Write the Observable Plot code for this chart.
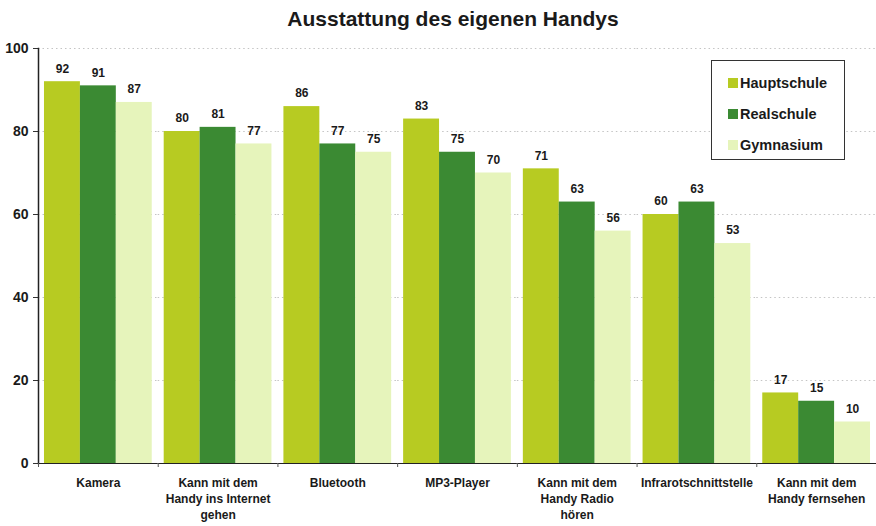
<!DOCTYPE html>
<html><head><meta charset="utf-8">
<script src="https://cdn.jsdelivr.net/npm/d3@7"></script>
<script src="https://cdn.jsdelivr.net/npm/@observablehq/plot@0.6"></script>
<style>
body{margin:0;background:#fff;font-family:"Liberation Sans",Arial,sans-serif;}
#wrap{position:relative;width:876px;}
#title{height:40px;line-height:38px;text-align:center;font-weight:bold;font-size:21px;color:#1a1a1a;padding-left:30px;box-sizing:border-box;}
#legend{position:absolute;left:711px;top:60px;width:134px;height:100px;border:1.5px solid #333;background:#fff;box-sizing:border-box;padding:6px 0 0 16px;}
#legend div{font-weight:bold;font-size:14.5px;color:#1a1a1a;height:31px;line-height:26px;display:flex;align-items:center;}
#legend span{display:inline-block;width:10px;height:10px;margin-right:2px;}
</style></head>
<body><div id="wrap"><div id="title">Ausstattung des eigenen Handys</div><div id="chart"></div><div id="legend"></div></div>
<script>
const categories = ["Kamera","Kann mit dem\nHandy ins Internet\ngehen","Bluetooth","MP3-Player","Kann mit dem\nHandy Radio\nhören","Infrarotschnittstelle","Kann mit dem\nHandy fernsehen"];
const schools = ["Hauptschule","Realschule","Gymnasium"];
const hauptschule = [92,80,86,83,71,60,17];
const realschule = [91,81,77,75,63,63,15];
const gymnasium = [87,77,75,70,56,53,10];
const yTicks = [0,20,40,60,80,100];
const colors = ["#b7cb22","#3b8a33","#e6f4bb"];

const series = [hauptschule, realschule, gymnasium];
const data = [];
categories.forEach((c,i)=>schools.forEach((s,j)=>data.push({cat:c, school:s, value:series[j][i]})));

const W = 876, mL = 38, mR = 0;
const step = (W - mL - mR) / categories.length;

const chart = Plot.plot({
  width: W, height: 486,
  marginTop: 8, marginBottom: 63, marginLeft: mL, marginRight: mR,
  style: {fontFamily: '"Liberation Sans", Arial, sans-serif', fontWeight: "bold", fontSize: "12px", color: "#1a1a1a", background: "#fff"},
  fx: {domain: categories, padding: 0, label: null, round: false, axis: null},
  x: {domain: schools, paddingInner: 0, paddingOuter: 1/6, axis: null, round: false},
  y: {domain: [0,100], ticks: yTicks, label: null},
  color: {domain: schools, range: colors},
  marks: [
    Plot.ruleY(yTicks.filter(d=>d>0), {stroke: "#c4c4c4", strokeDasharray: "1.5,3", strokeWidth: 1}),
    Plot.barY(data, {fx: "cat", x: "school", y: "value", fill: "school"}),
    Plot.text(data, {fx: "cat", x: "school", y: "value", text: "value", dy: -13, fontSize: 12, fontWeight: "bold", fill: "#1a1a1a"}),
    Plot.axisY({ticks: yTicks, tickSize: 5, tickPadding: 5, fontSize: 14, fontWeight: "bold", stroke: "#333"}),
    Plot.frame({anchor: "left", facetAnchor: "left", stroke: "#222", strokeWidth: 1.5}),
    Plot.ruleY([0], {stroke: "#222", strokeWidth: 1.2}),
    Plot.axisFx({anchor: "bottom", tickSize: 4, text: null, dx: -step/2, stroke: "#555"}),
    Plot.axisFx({anchor: "bottom", tickSize: 0, tickPadding: 12, fontSize: 12, fontWeight: "bold", lineHeight: 1.35, fill: "#1a1a1a"})
  ]
});
document.getElementById("chart").appendChild(chart);

const lg = document.getElementById("legend");
schools.forEach((s,i)=>{
  const d = document.createElement("div");
  d.innerHTML = `<span style="background:${colors[i]}"></span>${s}`;
  lg.appendChild(d);
});
</script></body></html>
